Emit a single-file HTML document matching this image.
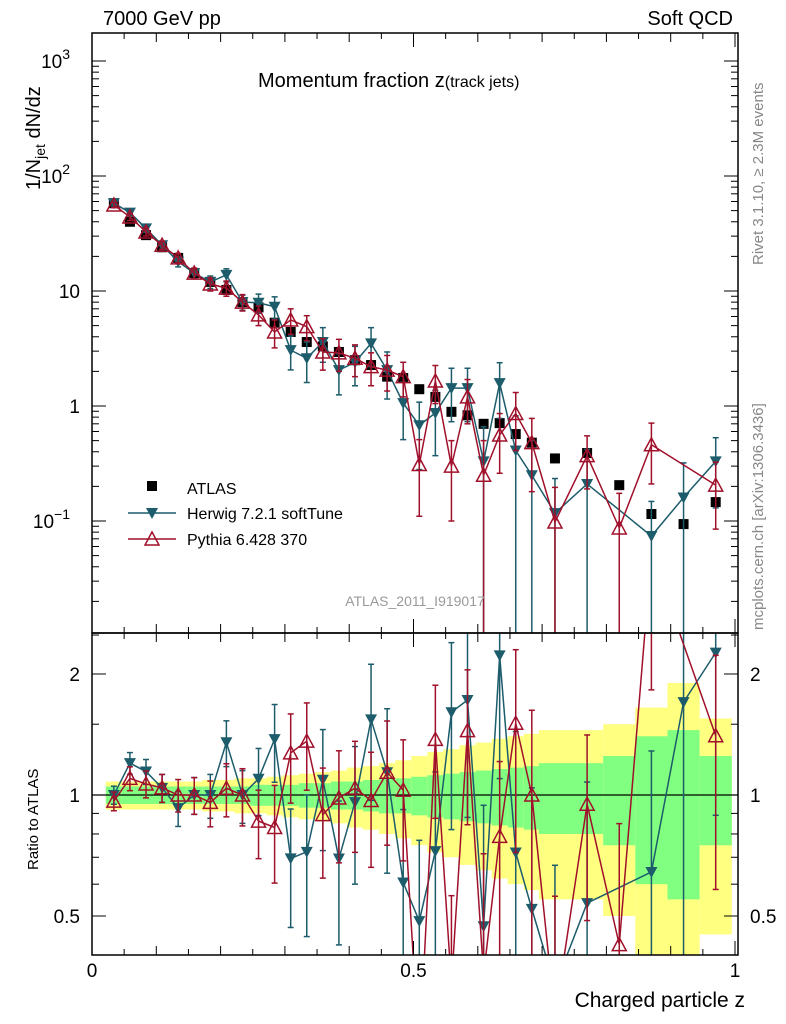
<!DOCTYPE html>
<html><head><meta charset="utf-8"><style>
html,body{margin:0;padding:0;background:#fff;width:786px;height:1024px;overflow:hidden;}
svg{display:block;font-family:"Liberation Sans",sans-serif;}
</style></head><body>
<svg id="c" width="786" height="1024" xmlns="http://www.w3.org/2000/svg"></svg>
<script>
const zBins=[0.034,0.059,0.084,0.109,0.134,0.159,0.184,0.209,0.234,0.259,0.284,0.309,0.334,0.359,0.384,0.409,0.434,0.459,0.484,0.509,0.534,0.559,0.584,0.609,0.634,0.659,0.684,0.72,0.77,0.82,0.87,0.92,0.97];
const atlasVals=[58,40,30.6,24,19.4,14.3,12,10.2,8.0,7.2,5.3,4.4,3.6,3.3,2.95,2.5,2.27,1.8,1.75,1.4,1.2,0.89,0.83,0.70,0.71,0.57,0.48,0.35,0.39,0.205,0.115,0.094,0.146];
const herwigVals=[58,48,35,25,18,14.3,12,13.8,8,7.9,7.3,3.06,2.6,3.6,2.05,2.4,3.5,2.05,1.06,0.68,0.87,1.43,1.43,0.33,1.58,0.41,0.25,0.117,0.21,null,0.074,0.16,0.33];
const herwigErr=[3,3,2.5,2,1.8,1.5,1.5,1.8,1.2,1.5,1.6,1.0,1.0,1.2,0.8,0.9,1.3,0.9,0.55,0.4,0.5,0.7,0.7,0.33,0.8,0.41,0.25,0.117,0.21,null,0.074,0.16,0.2];
const pythiaVals=[56,44,32.6,25,19.4,14.3,11.5,10.6,8.0,6.2,4.4,5.6,4.9,2.95,2.9,2.6,2.2,2.05,1.8,0.31,1.65,0.30,1.2,0.25,0.56,0.86,0.48,0.098,0.37,0.087,0.46,null,0.205];
const pythiaErr=[3,3,2.5,2,1.8,1.5,1.5,1.6,1.3,1.2,1.2,1.4,1.2,0.9,0.9,0.8,0.7,0.7,0.6,0.2,0.6,0.2,0.5,0.25,0.3,0.45,0.3,0.098,0.18,0.087,0.25,null,0.12];
const bandGreen=[0.05,0.05,0.05,0.05,0.05,0.05,0.05,0.05,0.05,0.06,0.06,0.06,0.07,0.07,0.08,0.08,0.09,0.1,0.1,0.11,0.12,0.13,0.14,0.15,0.16,0.17,0.18,0.2,0.2,0.25,0.4,0.45,0.25];
const bandYellow=[0.08,0.08,0.08,0.08,0.08,0.08,0.09,0.09,0.1,0.1,0.11,0.12,0.13,0.14,0.15,0.17,0.18,0.2,0.22,0.25,0.28,0.3,0.33,0.35,0.38,0.4,0.42,0.45,0.45,0.5,0.65,0.9,0.55];
const xTicks=[0,0.5,1];
const mainTicks=[1000,100,10,1,0.1];

const S=document.getElementById('c');const NS='http://www.w3.org/2000/svg';
const L=92,R=738,T=33,MB=633,RB=955;
function X(z){return L+z*643;}
function Y(v){return 406-115*Math.log10(v);}
function RY(r){return 795-402*Math.log10(r);}
function el(t,a,p){const e=document.createElementNS(NS,t);for(const k in a)e.setAttribute(k,a[k]);(p||S).appendChild(e);return e;}
function txt(x,y,s,a,p){const e=el('text',Object.assign({x:x,y:y},a||{}),p);e.textContent=s;return e;}
const cm=el('clipPath',{id:'cm'});el('rect',{x:L,y:T,width:R-L,height:MB-T},cm);
const cr=el('clipPath',{id:'cr'});el('rect',{x:L,y:MB,width:R-L,height:RB-MB},cr);
const gm=el('g',{'clip-path':'url(#cm)'});
const gr=el('g',{'clip-path':'url(#cr)'});
function edges(i){const z=zBins[i];const w=z<0.7?0.0125:0.025;return [z-w,z+w];}
zBins.forEach((z,i)=>{const [a,b]=edges(i);
 const y1=el('rect',{x:X(a),width:X(b)-X(a),y:RY(1+bandYellow[i]),height:RY(Math.max(0.05,1-bandYellow[i]))-RY(1+bandYellow[i]),fill:'#ffff80'},gr);
 
 const g1=el('rect',{x:X(a),width:X(b)-X(a),y:RY(1+bandGreen[i]),height:RY(1-bandGreen[i])-RY(1+bandGreen[i]),fill:'#80ff80'},gr);
 });
el('line',{x1:L,x2:R,y1:RY(1),y2:RY(1),stroke:'#000','stroke-width':1.2},gr);
function series(vals,errs,col,kind,gMain,gRat){
 let pts=[],rpts=[];
 vals.forEach((v,i)=>{if(v==null)return;const x=X(zBins[i]);
  const lo=v-errs[i],hi=v+errs[i];
  const e=el('line',{x1:x,x2:x,y1:Y(hi),y2:lo>0?Y(lo):MB+5,stroke:col,'stroke-width':1.5},gMain);
  
  el('line',{x1:x-3,x2:x+3,y1:Y(hi),y2:Y(hi),stroke:col,'stroke-width':1.5},gMain);
  if(lo>0)el('line',{x1:x-3,x2:x+3,y1:Y(lo),y2:Y(lo),stroke:col,'stroke-width':1.5},gMain);
  pts.push([x,Y(v)]);
  const r=v/atlasVals[i],rh=hi/atlasVals[i],rl=lo/atlasVals[i];
  el('line',{x1:x,x2:x,y1:RY(rh),y2:rl>0?RY(rl):RB+5,stroke:col,'stroke-width':1.5},gRat);
  el('line',{x1:x-3,x2:x+3,y1:RY(rh),y2:RY(rh),stroke:col,'stroke-width':1.5},gRat);
  if(rl>0)el('line',{x1:x-3,x2:x+3,y1:RY(rl),y2:RY(rl),stroke:col,'stroke-width':1.5},gRat);
  rpts.push([x,RY(r)]);});
 [[pts,gMain],[rpts,gRat]].forEach(([p,g])=>{
  const pl=el('polyline',{points:p.map(q=>q.join(',')).join(' '),fill:'none',stroke:col,'stroke-width':1.5},g);
  
  p.forEach(([x,y])=>{const m=marker(x,y,col,kind,g);});});
}
function marker(x,y,col,kind,g){
 if(kind==='down')return el('path',{d:`M${x-6},${y-5}L${x+6},${y-5}L${x},${y+6}Z`,fill:col},g);
 return el('path',{d:`M${x-7},${y+6}L${x+7},${y+6}L${x},${y-7}Z`,fill:'#fff','fill-opacity':0.01,stroke:col,'stroke-width':1.5},g);
}
atlasVals.forEach((v,i)=>{const x=X(zBins[i]);const r=el('rect',{x:x-5,y:Y(v)-5,width:10,height:10,fill:'#000'},gm);
 });
series(herwigVals,herwigErr,'#1c5c6b','down',gm,gr);
series(pythiaVals,pythiaErr,'#a0102a','up',gm,gr);
el('rect',{x:L,y:T,width:R-L,height:MB-T,fill:'none',stroke:'#000','stroke-width':1.5});
el('rect',{x:L,y:MB,width:R-L,height:RB-MB,fill:'none',stroke:'#000','stroke-width':1.5});
for(let d=-2;d<=3;d++){for(let m=1;m<10;m++){const v=m*Math.pow(10,d);const y=Y(v);if(y<T||y>MB)continue;const len=m===1?14:7;
 el('line',{x1:L,x2:L+len,y1:y,y2:y,stroke:'#000'});el('line',{x1:R-len,x2:R,y1:y,y2:y,stroke:'#000'});}}
const labs={1000:['10','3'],100:['10','2'],10:['10',''],1:['1',''],0.1:['10','−1']};
mainTicks.forEach(v=>{const y=Y(v);const l=labs[v];const t=txt(l[1]?70:80,y+7,l[0],{'font-size':19,'text-anchor':'end'});
 
 if(l[1]){const s=el('tspan',{dy:-9,'font-size':14},t);s.textContent=l[1];}});
[0.4,0.5,0.6,0.7,0.8,0.9,1,1.5,2,2.5].forEach(r=>{const y=RY(r);const len=(r===0.5||r===1||r===2)?14:7;
 el('line',{x1:L,x2:L+len,y1:y,y2:y,stroke:'#000'});el('line',{x1:R-len,x2:R,y1:y,y2:y,stroke:'#000'});});
[[2,'2'],[1,'1'],[0.5,'0.5']].forEach(([r,s])=>{txt(80,RY(r)+7,s,{'font-size':19,'text-anchor':'end'});txt(750,RY(r)+7,s,{'font-size':19});});
for(let i=0;i<=20;i++){const z=i*0.05,x=X(z);const len=i%10===0?14:(i%2===0?9:6);
 el('line',{x1:x,x2:x,y1:RB-len,y2:RB,stroke:'#000'});el('line',{x1:x,x2:x,y1:MB,y2:MB+len,stroke:'#000'});
 el('line',{x1:x,x2:x,y1:MB-len,y2:MB,stroke:'#000'});el('line',{x1:x,x2:x,y1:T,y2:T+len,stroke:'#000'});}
xTicks.forEach(z=>{const t=txt(X(z),977,String(z),{'font-size':19,'text-anchor':'middle'});});
txt(103,25,'7000 GeV pp',{'font-size':20});
txt(733,25,'Soft QCD',{'font-size':20,'text-anchor':'end'});
const tt=txt(258,87,'Momentum fraction ',{'font-size':20});
const ts=el('tspan',{},tt);ts.textContent='z';const ts2=el('tspan',{'font-size':16},tt);ts2.textContent='(track jets)';
txt(745,1007,'Charged particle z',{'font-size':21,'text-anchor':'end'});
const yl=txt(0,0,'1/N',{'font-size':20,transform:'translate(40,190) rotate(-90)'});
const ys=el('tspan',{dy:5,'font-size':14},yl);ys.textContent='jet';const ys2=el('tspan',{dy:-5},yl);ys2.textContent=' dN/dz';
txt(0,0,'Ratio to ATLAS',{'font-size':15,transform:'translate(38,870) rotate(-90)'});
txt(0,0,'Rivet 3.1.10, ≥ 2.3M events',{'font-size':15,fill:'#888',transform:'translate(763,265) rotate(-90)'});
txt(0,0,'mcplots.cern.ch [arXiv:1306.3436]',{'font-size':15,fill:'#888',transform:'translate(763,630) rotate(-90)'});
txt(415,606,'ATLAS_2011_I919017',{'font-size':14,fill:'#999','text-anchor':'middle'});
const lg=el('g',{});
el('rect',{x:147,y:481,width:10,height:10,fill:'#000'},lg);txt(187,494,'ATLAS',{'font-size':16},lg);
el('line',{x1:128,x2:176,y1:513,y2:513,stroke:'#1c5c6b','stroke-width':1.5},lg);marker(152,513,'#1c5c6b','down',lg);
txt(187,519,'Herwig 7.2.1 softTune',{'font-size':16},lg);
el('line',{x1:128,x2:176,y1:539,y2:539,stroke:'#a0102a','stroke-width':1.5},lg);marker(152,539,'#a0102a','up',lg);
txt(187,545,'Pythia 6.428 370',{'font-size':16},lg);
</script></body></html>
